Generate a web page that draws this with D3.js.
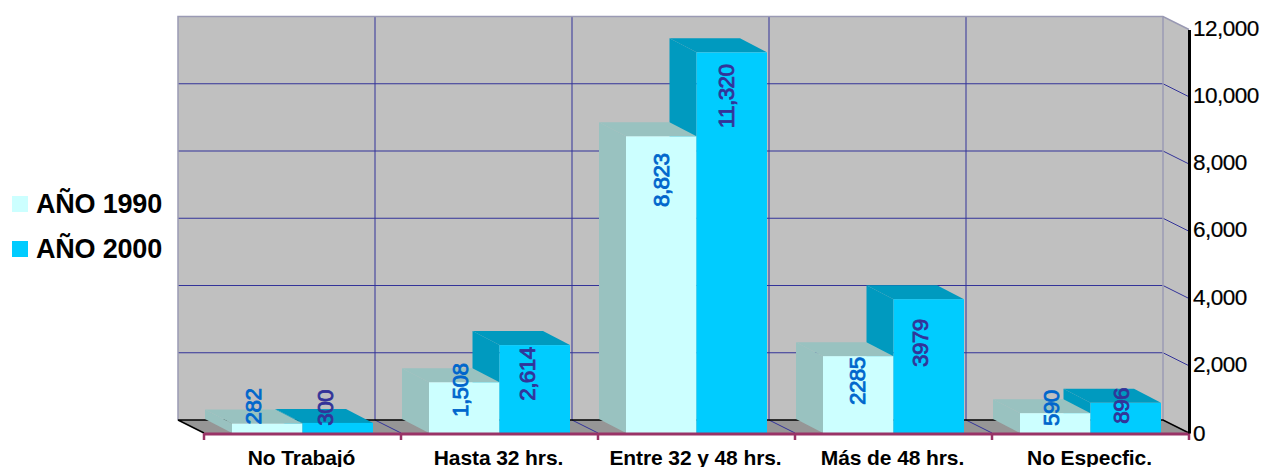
<!DOCTYPE html>
<html><head><meta charset="utf-8">
<script src="https://cdnjs.cloudflare.com/ajax/libs/d3/7.8.5/d3.min.js"></script>
<style>html,body{margin:0;padding:0;background:#fff;overflow:hidden}svg{display:block;font-family:"Liberation Sans",Arial,sans-serif}</style>
</head><body><svg id="c" width="1262" height="467"></svg>
<script>
const categories = ["No Trabajó","Hasta 32 hrs.","Entre 32 y 48 hrs.","Más de 48 hrs.","No Especfic."];
const seriesNames = ["AÑO 1990","AÑO 2000"];
const values1990 = [282,1508,8823,2285,590];
const values2000 = [300,2614,11320,3979,896];
const labels1990 = ["282","1,508","8,823","2285","590"];
const labels2000 = ["300","2,614","11,320","3979","896"];
const yTicks = [0,2000,4000,6000,8000,10000,12000];

// layout-only hand placement of the value labels (px from bar top, px from bar centre)
const labelDrop1990 = [-17,8,44,25,-5];
const labelDrop2000 = [-15,29,44,44,3];
const labelShift1990 = [-14,-4,0,-1,-4];
const labelShift2000 = [-12,-7,-5,-8,-4];

const svg = d3.select("#c");
const wall = {x:26,y:13}, bar = {x:27,y:14};
const y = d3.scaleLinear().domain([0,12000]).range([433,29.5]);
const x = d3.scaleBand().domain(categories).range([204,1189]);
const inner = d3.scaleBand().domain([0,1]).range([28,169]);
const poly = pts => pts.map(p=>p.join(",")).join(" ");
const L = x.range()[0], R = x.range()[1], B = y(0), T = y(12000);
const gridC = "#333399", edge = "#9A9AB4";

// walls
svg.append("polygon").attr("fill","#C0C0C0")
  .attr("points",poly([[L-wall.x,T-wall.y],[R-wall.x,T-wall.y],[R,T],[R,B],[R-wall.x,B-wall.y],[L-wall.x,B-wall.y]]));
svg.append("polygon").attr("fill","#969696")
  .attr("points",poly([[L-wall.x,B-wall.y],[R-wall.x,B-wall.y],[R,B],[L,B]]));

// gridlines
const grid = svg.append("g").attr("fill","none");
yTicks.slice(1,-1).forEach(t=>{
  grid.append("path").attr("stroke",gridC).attr("stroke-width",1)
    .attr("d",`M${L-wall.x},${y(t)-wall.y}H${R-wall.x}L${R},${y(t)}`);
});
x.domain().slice(1).forEach(c=>{
  grid.append("path").attr("stroke",gridC).attr("stroke-width",1)
    .attr("d",`M${x(c)},${B}L${x(c)-wall.x},${B-wall.y}V${T-wall.y}`);
});
// wall edges
svg.append("path").attr("fill","none").attr("stroke",edge).attr("stroke-width",1.5)
  .attr("d",`M${L-wall.x},${B-wall.y}V${T-wall.y}H${R-wall.x}L${R},${T}M${R-wall.x},${T-wall.y}V${B-wall.y}`);
svg.append("path").attr("fill","none").attr("stroke","#000").attr("stroke-width",1.5)
  .attr("d",`M${L},${B}L${L-wall.x},${B-wall.y}H${R-wall.x}L${R},${B}`);

// bars
const series = [
  {vals:values1990,labels:labels1990,drop:labelDrop1990,shift:labelShift1990,front:"#CCFFFF",side:"#99C2C0",text:"#0066CC",i:0},
  {vals:values2000,labels:labels2000,drop:labelDrop2000,shift:labelShift2000,front:"#00CCFF",side:"#009ABF",text:"#333399",i:1}
];
const bw = inner.bandwidth();
const g = svg.append("g");
const sideFace = (s,c,k)=>{
  const x0 = x(c)+inner(s.i), yT = y(s.vals[k]);
  g.append("polygon").attr("fill",s.side)
    .attr("points",poly([[x0,B],[x0-bar.x,B-bar.y],[x0-bar.x,yT-bar.y],[x0,yT]]));
};
const topFace = (s,c,k)=>{
  const x0 = x(c)+inner(s.i), x1 = x0+bw, yT = y(s.vals[k]);
  g.append("polygon").attr("fill",s.side)
    .attr("points",poly([[x0,yT],[x0-bar.x,yT-bar.y],[x1-bar.x,yT-bar.y],[x1,yT]]));
};
const frontFace = (s,c,k)=>{
  const x0 = x(c)+inner(s.i), yT = y(s.vals[k]);
  g.append("rect").attr("x",x0).attr("y",yT).attr("width",bw).attr("height",B-yT).attr("fill",s.front);
};
categories.forEach((c,k)=>{
  sideFace(series[1],c,k);
  topFace(series[1],c,k);
  sideFace(series[0],c,k);
  topFace(series[0],c,k);
  frontFace(series[0],c,k);
  frontFace(series[1],c,k);
});
// value labels
series.forEach(s=>{
  categories.forEach((c,k)=>{
    const cx = x(c)+inner(s.i)+bw/2+s.shift[k], cy = y(s.vals[k])+s.drop[k];
    svg.append("text").attr("transform",`translate(${cx},${cy}) rotate(-90)`)
      .attr("text-anchor","middle").attr("dominant-baseline","central")
      .attr("font-size",22.5).attr("letter-spacing",-0.6).attr("stroke",s.text).attr("stroke-width",0.8)
      .attr("fill",s.text).text(s.labels[k]);
  });
});

// category axis
const xAxis = svg.append("g");
xAxis.append("path").attr("fill","none").attr("stroke","#993366").attr("stroke-width",3)
  .attr("d",`M${L},${B+1}H${R}`);
[...categories.map(c=>x(c)),R].forEach(p=>{
  xAxis.append("line").attr("x1",p).attr("x2",p).attr("y1",B).attr("y2",B+7)
    .attr("stroke","#993366").attr("stroke-width",2.5);
});
xAxis.selectAll("text.cat").data(categories).join("text").attr("class","cat")
  .attr("x",c=>x(c)+x.bandwidth()/2-1).attr("y",465).attr("text-anchor","middle")
  .attr("font-size",21).attr("font-weight","bold").attr("letter-spacing",-0.1).attr("fill","#000").text(c=>c);

// value axis
const yAxis = svg.append("g").attr("transform",`translate(${R},0)`)
  .call(d3.axisRight(y).tickValues(yTicks).tickSize(0).tickPadding(4).tickFormat(d3.format(",")));
yAxis.select(".domain").attr("stroke","#000").attr("stroke-width",3);
yAxis.selectAll("text").attr("font-size",22.5).attr("font-family","'Liberation Sans',Arial,sans-serif").attr("letter-spacing",-0.5).attr("fill","#000").attr("stroke","#000").attr("stroke-width",0.2)
  .attr("transform",d=>`translate(0,${d===0?0:-1.5})`);

// legend
const legend = svg.append("g");
series.forEach((s,i)=>{
  const yy = 204+i*45;
  legend.append("rect").attr("x",12).attr("y",yy-8).attr("width",16).attr("height",16).attr("fill",s.front);
  legend.append("text").attr("x",36).attr("y",yy+9).attr("font-size",27).attr("font-weight","bold").attr("letter-spacing",-0.2).attr("fill","#000").text(seriesNames[i]);
});
</script></body></html>
